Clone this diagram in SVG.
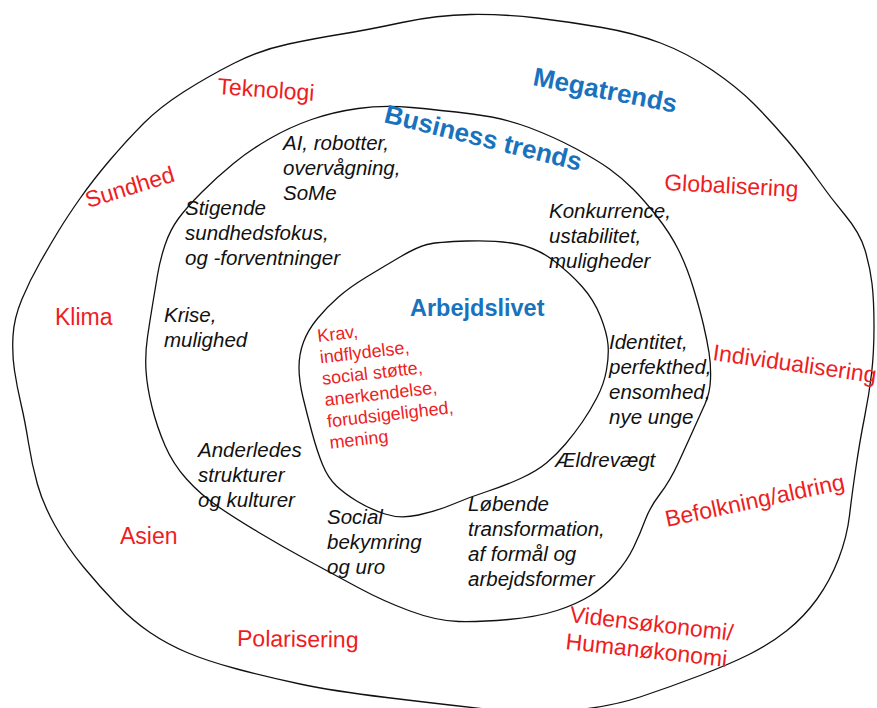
<svg xmlns="http://www.w3.org/2000/svg" width="877" height="708" viewBox="0 0 877 708">
<style>
.ring{fill:none;stroke:#111;stroke-width:1.3;stroke-linejoin:round}
.red{fill:#ee1d23;font-family:"Liberation Sans",Arial,sans-serif;font-size:23px}
.inred{fill:#ee1d23;font-family:"Liberation Sans",Arial,sans-serif;font-size:18px}
.blue{fill:#1872bd;font-family:"Liberation Sans",Arial,sans-serif;font-weight:bold;font-size:26px}
.blk{fill:#111;font-family:"Liberation Sans",Arial,sans-serif;font-style:italic;font-size:20.5px}
</style>
<rect width="877" height="708" fill="#fff"/>
<g id="megatrends">
<path class="ring" d="M402,22.5 Q437,15 470.5,14.5 Q504,14 537,18 Q570,22 602,27.5 Q634,33 660.5,43 Q687,53 712,70 Q737,87 753.5,103.5 Q770,120 787,140 Q804,160 817,178.5 Q830,197 845,215 Q860,233 865,250 Q870,267 872,283.5 Q874,300 874,326.5 Q874,353 871.5,374 Q869,395 864.5,417.5 Q860,440 856,467 Q852,494 849.5,515.5 Q847,537 838.5,559 Q830,581 817,599 Q804,617 787,630.5 Q770,644 750,654 Q730,664 700,675.5 Q670,687 640,697 Q610,707 570,710.5 Q530,714 485,709 Q440,704 386.5,697.5 Q333,691 300,684 Q267,677 237,669 Q207,661 187,652.5 Q167,644 150,632.5 Q133,621 116.5,604 Q100,587 83.5,567 Q67,547 55,525.5 Q43,504 37.5,484.5 Q32,465 28.5,443 Q25,421 21,404 Q17,387 14.5,370.5 Q12,354 13,336 Q14,318 22,299 Q30,280 40,262.5 Q50,245 58.5,231 Q67,217 80,198.5 Q93,180 110,160 Q127,140 143.5,123.5 Q160,107 183.5,92 Q207,77 233.5,63.5 Q260,50 288.5,44 Q317,38 342,34 Q367,30 402,22.5 Z"/>
<text class="blue" transform="translate(532,85) rotate(11)">Megatrends</text>
<text class="red" transform="translate(217,94) rotate(4)">Teknologi</text>
<text class="red" transform="translate(88,208) rotate(-17)">Sundhed</text>
<text class="red" x="55" y="325">Klima</text>
<text class="red" x="120" y="544">Asien</text>
<text class="red" transform="translate(237,646) rotate(0.8)">Polarisering</text>
<text class="red" transform="translate(664,190) rotate(3)">Globalisering</text>
<text class="red" transform="translate(712,360) rotate(8)">Individualisering</text>
<text class="red" transform="translate(667,527) rotate(-12)">Befolkning/aldring</text>
<text class="red" transform="translate(569,622) rotate(6.5)">Vidensøkonomi/</text>
<text class="red" transform="translate(565,649) rotate(6.3)">Humanøkonomi</text>
</g>
<g id="business-trends">
<path class="ring" d="M358,108.5 Q383,105 411.5,107.5 Q440,110 472,114 Q504,118 529,127.5 Q554,137 575.5,148.5 Q597,160 609.5,169 Q622,178 633,189 Q644,200 657,216.5 Q670,233 678.5,250 Q687,267 693.5,288.5 Q700,310 703.5,325 Q707,340 709,352.5 Q711,365 710.5,379 Q710,393 705,404 Q700,415 693.5,429.5 Q687,444 678.5,462.5 Q670,481 660,494 Q650,507 645,520.5 Q640,534 633.5,547.5 Q627,561 615.5,574 Q604,587 590.5,595.5 Q577,604 557,610.5 Q537,617 508.5,619.5 Q480,622 458.5,621.5 Q437,621 410,611 Q383,601 358,587.5 Q333,574 308,560.5 Q283,547 258,532 Q233,517 216.5,505.5 Q200,494 186.5,479 Q173,464 165,445.5 Q157,427 152,407 Q147,387 146,370.5 Q145,354 147.5,337 Q150,320 152.5,305 Q155,290 157.5,275 Q160,260 165,245 Q170,230 178.5,218.5 Q187,207 202,192 Q217,177 233.5,163.5 Q250,150 270,138.5 Q290,127 311.5,119.5 Q333,112 358,108.5 Z"/>
<text class="blue" transform="translate(383,122) rotate(14)">Business trends</text>
<text class="blk" x="283" y="150">AI, robotter,<tspan x="283" y="175">overvågning,</tspan><tspan x="283" y="200">SoMe</tspan></text>
<text class="blk" x="185" y="215">Stigende<tspan x="185" y="240">sundhedsfokus,</tspan><tspan x="185" y="265">og -forventninger</tspan></text>
<text class="blk" x="164" y="322">Krise,<tspan x="164" y="347">mulighed</tspan></text>
<text class="blk" x="549" y="218">Konkurrence,<tspan x="549" y="243">ustabilitet,</tspan><tspan x="549" y="268">muligheder</tspan></text>
<text class="blk" x="609" y="349">Identitet,<tspan x="609" y="374">perfekthed,</tspan><tspan x="609" y="399">ensomhed,</tspan><tspan x="609" y="424">nye unge</tspan></text>
<text class="blk" x="555" y="467">Ældrevægt</text>
<text class="blk" x="468" y="511">Løbende<tspan x="468" y="536">transformation,</tspan><tspan x="468" y="561">af formål og</tspan><tspan x="468" y="586">arbejdsformer</tspan></text>
<text class="blk" x="198" y="457">Anderledes<tspan x="198" y="482">strukturer</tspan><tspan x="198" y="507">og kulturer</tspan></text>
<text class="blk" x="327" y="524">Social<tspan x="327" y="549">bekymring</tspan><tspan x="327" y="574">og uro</tspan></text>
</g>
<g id="arbejdslivet">
<path class="ring" d="M427,244.5 Q437,242 467,241 Q497,240 517,244 Q537,248 553.5,260.5 Q570,273 582,286.5 Q594,300 600.5,316.5 Q607,333 608,344.5 Q609,356 606.5,370 Q604,384 597,397.5 Q590,411 582,422.5 Q574,434 565.5,444 Q557,454 547,462.5 Q537,471 520.5,478.5 Q504,486 487,491.5 Q470,497 453.5,504 Q437,511 418.5,515 Q400,519 385,514 Q370,509 357.5,501.5 Q345,494 336.5,486 Q328,478 322.5,464.5 Q317,451 312,432.5 Q307,414 303,397.5 Q299,381 299,367.5 Q299,354 303.5,342 Q308,330 317.5,318.5 Q327,307 338.5,297 Q350,287 366.5,277 Q383,267 400,257 Q417,247 427,244.5 Z"/>
<text class="blue" x="410" y="316" style="font-size:23.5px">Arbejdslivet</text>
<text class="inred" transform="translate(318,342) rotate(-6.5)">Krav,<tspan x="0" y="21.5">indflydelse,</tspan><tspan x="0" y="43">social støtte,</tspan><tspan x="0" y="64.5">anerkendelse,</tspan><tspan x="0" y="86">forudsigelighed,</tspan><tspan x="0" y="107.5">mening</tspan></text>
</g>
</svg>
